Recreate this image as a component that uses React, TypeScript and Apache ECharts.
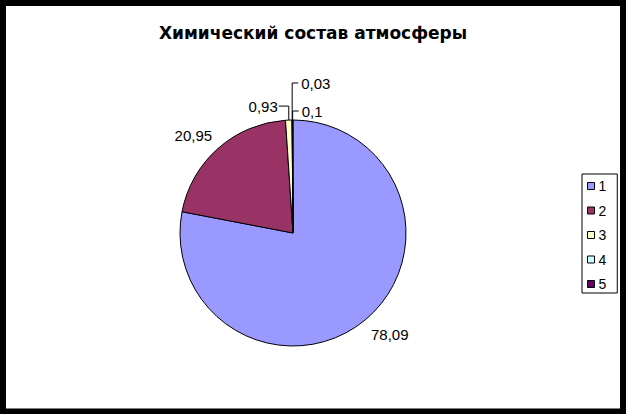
import React, { useEffect, useRef } from "react";
import * as echarts from "echarts";

const categories = ["1", "2", "3", "4", "5"];
const values = [78.09, 20.95, 0.93, 0.03, 0.1];
const colors = ["#9999FF", "#993366", "#FFFFCC", "#CCFFFF", "#660066"];
const titleText = "Химический состав атмосферы";

const CX = 293;
const CY = 233;
const R = 113;

const total = values.reduce((a, b) => a + b, 0);
function edgePoint(i: number): [number, number] {
  let before = 0;
  for (let k = 0; k < i; k++) before += values[k];
  const frac = (before + values[i] / 2) / total;
  const a = frac * Math.PI * 2;
  return [CX + R * Math.sin(a), CY - R * Math.cos(a)];
}

export default function App() {
  const ref = useRef<HTMLDivElement>(null);
  useEffect(() => {
    if (!ref.current) return;
    const chart = echarts.init(ref.current, null, { renderer: "svg" });
    chart.setOption({
      animation: false,
      backgroundColor: "#fff",
      title: {
        text: titleText,
        left: "center",
        top: 19,
        textStyle: {
          fontFamily: "DejaVu Sans",
          fontWeight: "bold",
          fontSize: 17,
          color: "#000",
        },
      },
      legend: {
        orient: "vertical",
        left: 582,
        top: 174,
        data: categories,
        icon: "rect",
        itemWidth: 7,
        itemHeight: 7,
        itemGap: 10.5,
        padding: [5, 11, 2, 5],
        borderColor: "#000",
        borderWidth: 1,
        selectedMode: false,
        itemStyle: { borderColor: "#000", borderWidth: 1 },
        textStyle: {
          fontFamily: "Liberation Sans",
          fontSize: 14,
          lineHeight: 14,
          color: "#000",
          padding: [0, 0, 0, -1],
        },
      },
      graphic: [
        {
          type: "rect",
          shape: { x: 3, y: 3, width: 620, height: 408.5 },
          style: { fill: "none", stroke: "#000", lineWidth: 6, lineJoin: "miter" },
          z: 100,
        },
      ],
      series: [
        {
          type: "pie",
          center: [CX, CY],
          radius: R,
          startAngle: 90,
          clockwise: true,
          avoidLabelOverlap: false,
          silent: true,
          emphasis: { disabled: true },
          itemStyle: { borderColor: "#000", borderWidth: 1 },
          label: {
            show: true,
            position: "outside",
            color: "#000",
            fontFamily: "Liberation Sans",
            fontSize: 15,
            formatter: (p: any) => String(p.value).replace(".", ","),
          },
          labelLine: {
            show: true,
            length: 5,
            length2: 5,
            lineStyle: { color: "#000", width: 1 },
          },
          labelLayout: (p: any) => {
            const i = p.dataIndex;
            const [ex, ey] = edgePoint(i);
            if (i === 0)
              return { x: ex + 6, y: ey + 14, align: "left", verticalAlign: "middle" };
            if (i === 1)
              return { x: ex - 6, y: ey - 13, align: "right", verticalAlign: "middle" };
            if (i === 2)
              return {
                x: ex - 11,
                y: ey - 14,
                align: "right",
                verticalAlign: "middle",
                labelLinePoints: [
                  [ex, ey],
                  [ex, ey - 14],
                  [ex - 10, ey - 14],
                ],
              };
            if (i === 3)
              return {
                x: ex + 9,
                y: ey - 37,
                align: "left",
                verticalAlign: "middle",
                labelLinePoints: [
                  [ex, ey],
                  [ex, ey - 37],
                  [ex + 6, ey - 37],
                ],
              };
            return {
              x: ex + 9,
              y: ey - 9,
              align: "left",
              verticalAlign: "middle",
              labelLinePoints: [
                [ex, ey],
                [ex, ey - 9],
                [ex + 6, ey - 9],
              ],
            };
          },
          data: categories.map((c, i) => ({
            name: c,
            value: values[i],
            itemStyle: { color: colors[i] },
            labelLine: { show: i >= 2 },
          })),
        },
      ],
    });
    return () => chart.dispose();
  }, []);
  return (
    <div
      ref={ref}
      style={{ position: "fixed", left: 0, top: 0, width: 626, height: 414 }}
    />
  );
}
